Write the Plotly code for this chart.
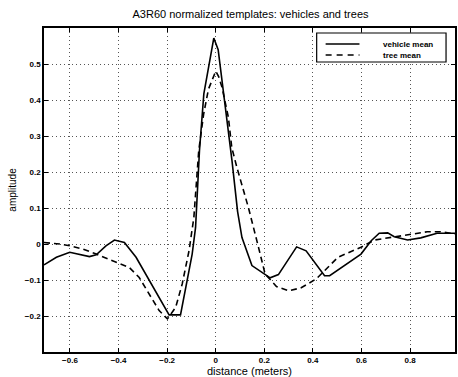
import plotly.graph_objects as go

# vehicle mean (solid)
veh_x = [-0.707, -0.656, -0.601, -0.547, -0.52, -0.492, -0.452, -0.417, -0.376, -0.328, -0.274,
         -0.22, -0.192, -0.145, -0.117, -0.097, -0.083, -0.067, -0.049, -0.025, -0.008, 0.01,
         0.033, 0.05, 0.067, 0.09, 0.108, 0.149, 0.185, 0.224, 0.258, 0.298, 0.333, 0.372,
         0.41, 0.448, 0.469, 0.53, 0.598, 0.64, 0.673, 0.708, 0.735, 0.79, 0.844, 0.911, 0.985]
veh_y = [-0.058, -0.037, -0.023, -0.030, -0.035, -0.030, -0.005, 0.011, 0.004, -0.037, -0.102,
         -0.167, -0.197, -0.197, -0.102, -0.028, 0.046, 0.259, 0.417, 0.51, 0.572, 0.54,
         0.417, 0.33, 0.231, 0.09, 0.018, -0.06, -0.077, -0.094, -0.085, -0.045, -0.008, -0.019,
         -0.055, -0.088, -0.088, -0.06, -0.028, 0.009, 0.03, 0.031, 0.02, 0.011, 0.017, 0.03, 0.03]

# tree mean (dashed)
tree_x = [-0.707, -0.642, -0.601, -0.547, -0.492, -0.438, -0.404, -0.356, -0.315, -0.274, -0.233,
          -0.199, -0.165, -0.138, -0.11, -0.09, -0.07, -0.05, -0.03, -0.015, 0.0, 0.012, 0.026,
          0.052, 0.066, 0.087, 0.135, 0.176, 0.203, 0.25, 0.3, 0.35, 0.414, 0.503, 0.598, 0.653,
          0.762, 0.871, 0.925, 0.985]
tree_y = [0.004, 0.0, -0.005, -0.014, -0.028, -0.042, -0.051, -0.065, -0.093, -0.139, -0.185,
          -0.208, -0.176, -0.111, -0.019, 0.074, 0.259, 0.36, 0.43, 0.455, 0.48, 0.465, 0.435,
          0.352, 0.268, 0.213, 0.1, -0.009, -0.083, -0.118, -0.13, -0.122, -0.097, -0.037, -0.009,
          0.011, 0.023, 0.034, 0.034, 0.028]

series_names = ["vehicle mean", "tree mean"]

x_ticks = [-0.6, -0.4, -0.2, 0, 0.2, 0.4, 0.6, 0.8]
x_tick_labels = ["\u22120.6", "\u22120.4", "\u22120.2", "0", "0.2", "0.4", "0.6", "0.8"]
y_ticks = [-0.2, -0.1, 0, 0.1, 0.2, 0.3, 0.4, 0.5]
y_tick_labels = ["\u22120.2", "\u22120.1", "0", "0.1", "0.2", "0.3", "0.4", "0.5"]

FONT = "Liberation Sans, Arial, sans-serif"
W, H = 458, 377
L, R, T, B = 44, 1, 28, 25
PW, PH = W - L - R, H - T - B


def px(xp):
    return (xp - L) / PW


def py(yp):
    return (H - B - yp) / PH


fig = go.Figure()
fig.add_trace(go.Scatter(x=veh_x, y=veh_y, mode="lines", name=series_names[0],
                         line=dict(color="black", width=1.6)))
fig.add_trace(go.Scatter(x=tree_x, y=tree_y, mode="lines", name=series_names[1],
                         line=dict(color="black", width=1.6, dash="6px,4px")))

axis_common = dict(
    showline=True, linecolor="black", linewidth=1.5, mirror="ticks",
    ticks="inside", ticklen=4, tickcolor="black", tickwidth=1,
    showgrid=True, gridcolor="#555", gridwidth=1, griddash="1px,3px",
    zeroline=False, tickfont=dict(family=FONT, size=8, color="black", weight="bold"),
)

fig.update_xaxes(range=[-0.707, 0.985], tickvals=x_ticks, ticktext=x_tick_labels,
                 title=dict(text="distance (meters)", font=dict(family=FONT, size=11, color="black"),
                            standoff=2),
                 **axis_common)
fig.update_yaxes(range=[-0.3, 0.6], tickvals=y_ticks, ticktext=y_tick_labels,
                 title=dict(text="amplitude", font=dict(family=FONT, size=10, color="black"),
                            standoff=6),
                 **axis_common)

# compact legend box (drawn as shapes + text, like the MATLAB legend)
shapes = [
    dict(type="rect", xref="paper", yref="paper", x0=px(318), x1=px(448), y0=py(62), y1=py(33),
         line=dict(color="black", width=1.2), fillcolor="white", layer="above"),
    dict(type="line", xref="paper", yref="paper", x0=px(327), x1=px(361), y0=py(44), y1=py(44),
         line=dict(color="black", width=1.4), layer="above"),
    dict(type="line", xref="paper", yref="paper", x0=px(327), x1=px(361), y0=py(55), y1=py(55),
         line=dict(color="black", width=1.4, dash="6px,5px"), layer="above"),
]
annotations = [
    dict(text=series_names[0], xref="paper", yref="paper", x=px(383), y=py(44),
         xanchor="left", yanchor="middle", showarrow=False,
         font=dict(family=FONT, size=8, color="black", weight="bold")),
    dict(text=series_names[1], xref="paper", yref="paper", x=px(383), y=py(55),
         xanchor="left", yanchor="middle", showarrow=False,
         font=dict(family=FONT, size=8, color="black", weight="bold")),
]

fig.update_layout(
    width=W, height=H,
    margin=dict(l=L, r=R, t=T, b=B),
    paper_bgcolor="white", plot_bgcolor="white",
    title=dict(text="A3R60 normalized templates: vehicles and trees",
               font=dict(family=FONT, size=11, color="black"),
               x=(L + W - R) / 2 / W, xanchor="center", y=1 - 14 / H, yanchor="middle"),
    shapes=shapes, annotations=annotations,
    showlegend=False,
)

fig.write_html("out.html")
